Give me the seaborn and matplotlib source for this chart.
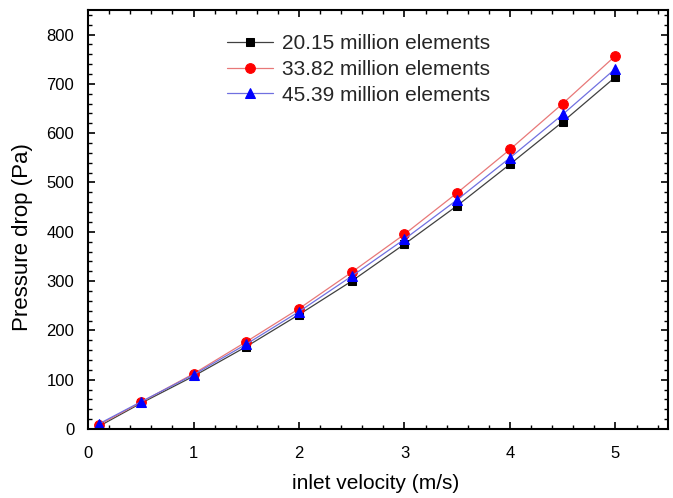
import numpy as np
import pandas as pd
import matplotlib
matplotlib.use('Agg')
import matplotlib.pyplot as plt
import seaborn as sns
from matplotlib.ticker import MultipleLocator

sns.set_theme(style="ticks")
plt.rcParams['font.family'] = ['Liberation Sans', 'DejaVu Sans']
plt.rcParams['axes.labelcolor'] = 'black'

# Data
velocity = [0.1, 0.5, 1.0, 1.5, 2.0, 2.5, 3.0, 3.5, 4.0, 4.5, 5.0]
dp_2015 = [5, 52, 107, 167, 232, 300, 375, 453, 537, 623, 714]
dp_3382 = [8, 54, 112, 177, 244, 318, 395, 479, 567, 660, 757]
dp_4539 = [10, 55, 110, 172, 238, 310, 385, 465, 550, 638, 731]
labels = ['20.15 million elements', '33.82 million elements', '45.39 million elements']

df = pd.DataFrame({
    'velocity': velocity * 3,
    'dp': dp_2015 + dp_3382 + dp_4539,
    'mesh': [labels[0]] * len(velocity) + [labels[1]] * len(velocity) + [labels[2]] * len(velocity),
})

line_colors = {labels[0]: '#404040', labels[1]: '#e87878', labels[2]: '#7070e0'}
marker_colors = {labels[0]: 'black', labels[1]: 'red', labels[2]: 'blue'}
markers = {labels[0]: 's', labels[1]: 'o', labels[2]: '^'}
msizes = {labels[0]: 6, labels[1]: 7, labels[2]: 7.5}

fig = plt.figure(figsize=(6.73, 4.98), dpi=100)
ax = fig.add_axes([0.1308, 0.1386, 0.862, 0.8414])

for lab in labels:
    sub = df[df['mesh'] == lab]
    sns.lineplot(data=sub, x='velocity', y='dp', ax=ax, color=line_colors[lab],
                 linewidth=0.9, marker=markers[lab], markersize=msizes[lab],
                 markerfacecolor=marker_colors[lab], markeredgecolor=marker_colors[lab],
                 label=lab)

ax.set_xlim(0, 5.5)
ax.set_ylim(0, 850)
ax.xaxis.set_major_locator(MultipleLocator(1))
ax.xaxis.set_minor_locator(MultipleLocator(0.2))
ax.yaxis.set_major_locator(MultipleLocator(100))
ax.yaxis.set_minor_locator(MultipleLocator(20))
ax.tick_params(which='both', direction='in', top=True, right=True, colors='black', labelsize=12)
ax.tick_params(which='major', length=5, width=1.2)
ax.tick_params(which='minor', length=3, width=1)
ax.tick_params(axis='x', which='major', pad=12)
ax.tick_params(axis='y', which='major', pad=10)
for s in ax.spines.values():
    s.set_linewidth(1.5)
    s.set_color('black')

ax.set_xlabel('inlet velocity (m/s)', fontsize=15)
ax.set_ylabel('Pressure drop (Pa)', fontsize=16)
ax.xaxis.set_label_coords(0.495, -0.108)
ax.yaxis.set_label_coords(-0.095, 0.458)

ax.legend(loc='upper left', bbox_to_anchor=(0.225, 0.962), frameon=False, fontsize=15,
          handlelength=2.2, handletextpad=0.45, labelspacing=0.32, borderaxespad=0)

fig.savefig('out.png', dpi=100)
